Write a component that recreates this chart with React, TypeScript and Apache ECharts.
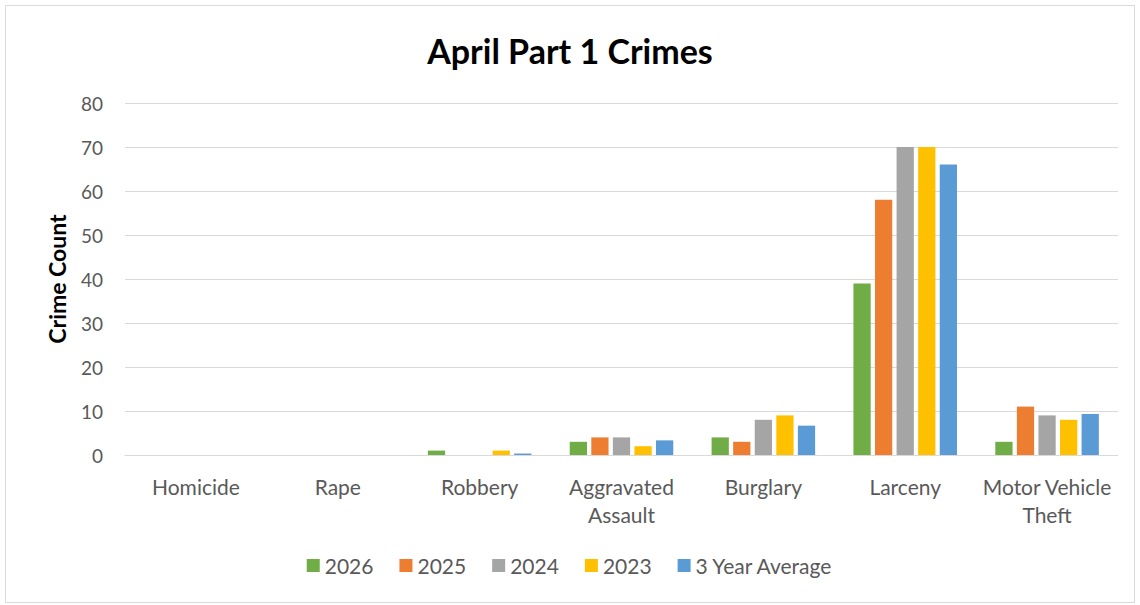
import React, { useEffect, useRef } from "react";
import * as echarts from "echarts";

const categories = ["Homicide", "Rape", "Robbery", "Aggravated\nAssault", "Burglary", "Larceny", "Motor Vehicle\nTheft"];
const s2026 = [0, 0, 1, 3, 4, 39, 3];
const s2025 = [0, 0, 0, 4, 3, 58, 11];
const s2024 = [0, 0, 0, 4, 8, 70, 9];
const s2023 = [0, 0, 1, 2, 9, 70, 8];
const sAvg = [0, 0, 0.33, 3.33, 6.67, 66, 9.33];
const seriesNames = ["2026", "2025", "2024", "2023", "3 Year Average"];
const colors = ["#70ad47", "#ed7d31", "#a5a5a5", "#ffc000", "#5b9bd5"];

export default function App() {
  const ref = useRef<HTMLDivElement>(null);
  useEffect(() => {
    const chart = echarts.init(ref.current!, undefined, { renderer: "svg" });
    const data = [s2026, s2025, s2024, s2023, sAvg];
    chart.setOption({
      animation: false,
      backgroundColor: "#ffffff",
      textStyle: { fontFamily: "Lato" },
      title: {
        text: "April Part 1 Crimes",
        left: "center",
        top: 28,
        textStyle: { fontFamily: "Lato", fontWeight: "bold", fontSize: 34, color: "#000000" },
      },
      graphic: [
        {
          type: "rect",
          shape: { x: 5.5, y: 5.5, width: 1129, height: 597 },
          style: { fill: "none", stroke: "#d9d9d9", lineWidth: 1 },
          silent: true,
        },
      ],
      legend: {
        bottom: 24,
        left: "center",
        itemWidth: 13,
        itemHeight: 13,
        itemGap: 26,
        icon: "rect",
        textStyle: { fontFamily: "Lato", fontSize: 21, color: "#595959" },
        data: seriesNames,
      },
      grid: { left: 125, right: 22, top: 103, bottom: 150 },
      xAxis: {
        type: "category",
        data: categories,
        axisLine: { lineStyle: { color: "#d9d9d9", width: 1 } },
        axisTick: { show: false },
        axisLabel: { fontFamily: "Lato", fontSize: 21, color: "#595959", margin: 17, lineHeight: 28, interval: 0 },
      },
      yAxis: {
        type: "value",
        min: 0,
        max: 80,
        interval: 10,
        name: "Crime Count",
        nameLocation: "middle",
        nameGap: 57,
        nameTextStyle: { fontFamily: "Lato", fontWeight: "bold", fontSize: 23, color: "#000000" },
        axisLine: { show: false },
        axisTick: { show: false },
        splitLine: { lineStyle: { color: "#d9d9d9", width: 1 } },
        axisLabel: { fontFamily: "Lato", fontSize: 19, color: "#595959", margin: 22 },
      },
      series: seriesNames.map((name, i) => ({
        name,
        type: "bar",
        data: data[i],
        itemStyle: { color: colors[i] },
        barGap: "25%",
        barCategoryGap: "27%",
      })),
    });
    return () => chart.dispose();
  }, []);
  return <div ref={ref} style={{ position: "fixed", left: 0, top: 0, width: 1140, height: 605 }} />;
}
